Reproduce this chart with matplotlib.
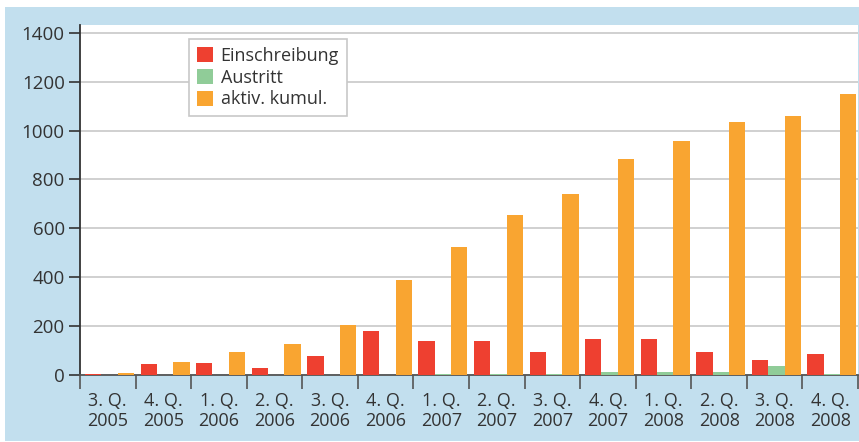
import numpy as np
from matplotlib import pyplot as plt
from matplotlib.patches import Rectangle

quartale = ['3. Q.\n2005', '4. Q.\n2005', '1. Q.\n2006', '2. Q.\n2006', '3. Q.\n2006',
            '4. Q.\n2006', '1. Q.\n2007', '2. Q.\n2007', '3. Q.\n2007', '4. Q.\n2007',
            '1. Q.\n2008', '2. Q.\n2008', '3. Q.\n2008', '4. Q.\n2008']
einschreibung = [5, 46, 50, 30, 79, 181, 140, 140, 95, 149, 149, 95, 63, 87]
austritt = [0, 0, 0, 0, 0, 0, 5, 5, 5, 14, 14, 14, 38, 5]
aktiv_kumul = [10, 55, 95, 128, 206, 390, 525, 656, 742, 885, 959, 1037, 1061, 1151]

plt.rcParams['font.family'] = ['Open Sans', 'DejaVu Sans']

fig = plt.figure(figsize=(8.59, 4.42), dpi=100)
fig.patch.set_facecolor('white')
fig.patches.append(Rectangle((5/859., 1/442.), 1 - 5/859., 1 - 8/442.,
                             transform=fig.transFigure, facecolor='#c2dfee',
                             edgecolor='none', zorder=-10))

ax = fig.add_axes([80/859., 1 - 375/442., 778/859., 350/442.])
ax.set_facecolor('white')

x = np.arange(len(quartale))
w = 0.294
ax.bar(x + 0.09 + w/2, einschreibung, w, color='#ee4030', label='Einschreibung', zorder=3)
ax.bar(x + 0.09 + 1.5*w, austritt, w, color='#90cc98', label='Austritt', zorder=3)
ax.bar(x + 0.09 + 2.5*w, aktiv_kumul, w, color='#f9a531', label='aktiv. kumul.', zorder=3)

ax.set_xlim(0, len(quartale))
ax.set_ylim(0, 1432)
ax.set_yticks(np.arange(0, 1401, 200))
ax.yaxis.grid(True, color='#c8c8c8', linewidth=1.2, zorder=0)

ax.set_xticks(np.arange(len(quartale) + 1))
ax.set_xticklabels([])
ax.set_xticks(x + 0.5, minor=True)
ax.set_xticklabels(quartale, minor=True, fontsize=13, color='#333333', linespacing=1.15)
ax.tick_params(axis='x', which='minor', length=0, pad=12)
ax.tick_params(axis='x', which='major', length=10, width=1.2, color='#555555', direction='out')
ax.tick_params(axis='y', length=8, width=1.2, color='#333333', labelsize=13.5,
               labelcolor='#333333', pad=3)

for s in ['top', 'right']:
    ax.spines[s].set_visible(False)
ax.spines['left'].set_color('#333333')
ax.spines['left'].set_linewidth(1.3)
ax.spines['bottom'].set_color('#555555')
ax.spines['bottom'].set_linewidth(1.3)

leg = ax.legend(loc='upper left', bbox_to_anchor=(189/859., 1 - 39/442.),
                bbox_transform=fig.transFigure, borderaxespad=0, fancybox=False,
                edgecolor='#c8c8c8', framealpha=1, fontsize=13,
                handlelength=0.9, handleheight=0.9, handletextpad=0.4,
                labelspacing=0.2, borderpad=0.45)
leg.get_frame().set_linewidth(1.2)
for t in leg.get_texts():
    t.set_color('#333333')

fig.savefig('out.png', dpi=100)
